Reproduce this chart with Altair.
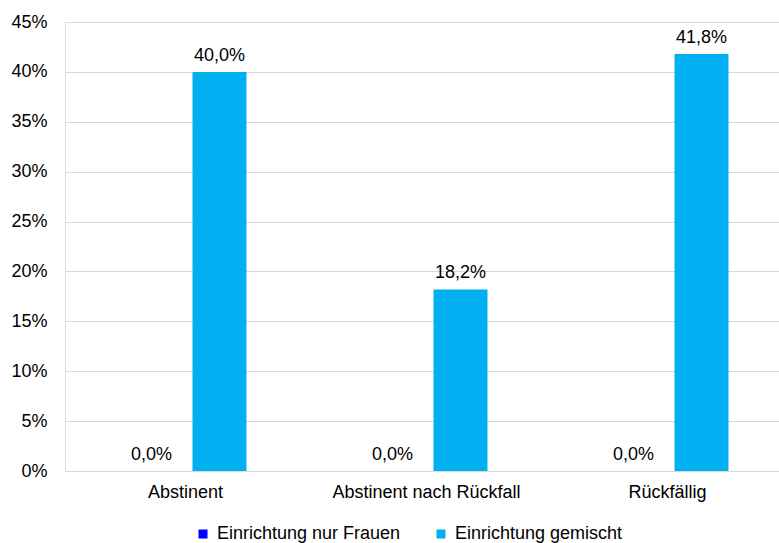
import altair as alt
import pandas as pd

categories = ["Abstinent", "Abstinent nach Rückfall", "Rückfällig"]
series = ["Einrichtung nur Frauen", "Einrichtung gemischt"]
frauen = [0.0, 0.0, 0.0]
gemischt = [40.0, 18.2, 41.8]
colors = ["#0000FF", "#00B0F0"]

rows = []
for c, f, g in zip(categories, frauen, gemischt):
    rows.append({"Kategorie": c, "Serie": series[0], "Wert": f})
    rows.append({"Kategorie": c, "Serie": series[1], "Wert": g})
df = pd.DataFrame(rows)

FONT = "Liberation Sans"
FS = 18

x = alt.X(
    "Kategorie:N",
    sort=categories,
    title=None,
    scale=alt.Scale(range=[0, 723], paddingInner=0.494, paddingOuter=0.247),
    axis=alt.Axis(labelAngle=0, labelFontSize=FS, labelFont=FONT, labelColor="#000000",
                  domain=False, ticks=False, labelPadding=12, grid=False, labelLimit=0),
)
xoff = alt.XOffset("Serie:N", sort=series, scale=alt.Scale(paddingInner=0.206, paddingOuter=0))
y = alt.Y(
    "Wert:Q",
    title=None,
    scale=alt.Scale(domain=[0, 45], nice=False),
    axis=alt.Axis(values=list(range(0, 50, 5)), labelExpr="datum.value + '%'",
                  labelFontSize=FS, labelFont=FONT, labelColor="#000000",
                  domain=False, ticks=False, labelPadding=18,
                  gridColor="#D9D9D9", gridWidth=1),
)

bars = alt.Chart(df).mark_bar().encode(
    x=x,
    xOffset=xoff,
    y=y,
    color=alt.Color(
        "Serie:N",
        sort=series,
        scale=alt.Scale(domain=series, range=colors),
        legend=alt.Legend(
            title=None, orient="none", direction="horizontal",
            legendX=129, legendY=503,
            symbolType="square", symbolSize=81, symbolStrokeWidth=0,
            labelFontSize=FS, labelFont=FONT, labelColor="#000000",
            labelOffset=5, columnPadding=31, labelLimit=0,
        ),
    ),
)

labels = alt.Chart(df).transform_calculate(
    txt="replace(format(datum.Wert, '.1f'), '.', ',') + '%'"
).mark_text(baseline="alphabetic", dy=-11, fontSize=FS, font=FONT, color="#000000").encode(
    x=x,
    xOffset=xoff,
    y=y,
    text="txt:N",
)

chart = (
    alt.layer(bars, labels)
    .properties(
        width=714,
        height=449,
        autosize=alt.AutoSizeParams(type="none"),
        padding={"left": 65, "top": 22, "right": 0, "bottom": 72},
    )
    .configure_view(stroke=None)
    .configure(background="white")
)

chart.save("out.html", embed_options={"renderer": "svg", "actions": False})
